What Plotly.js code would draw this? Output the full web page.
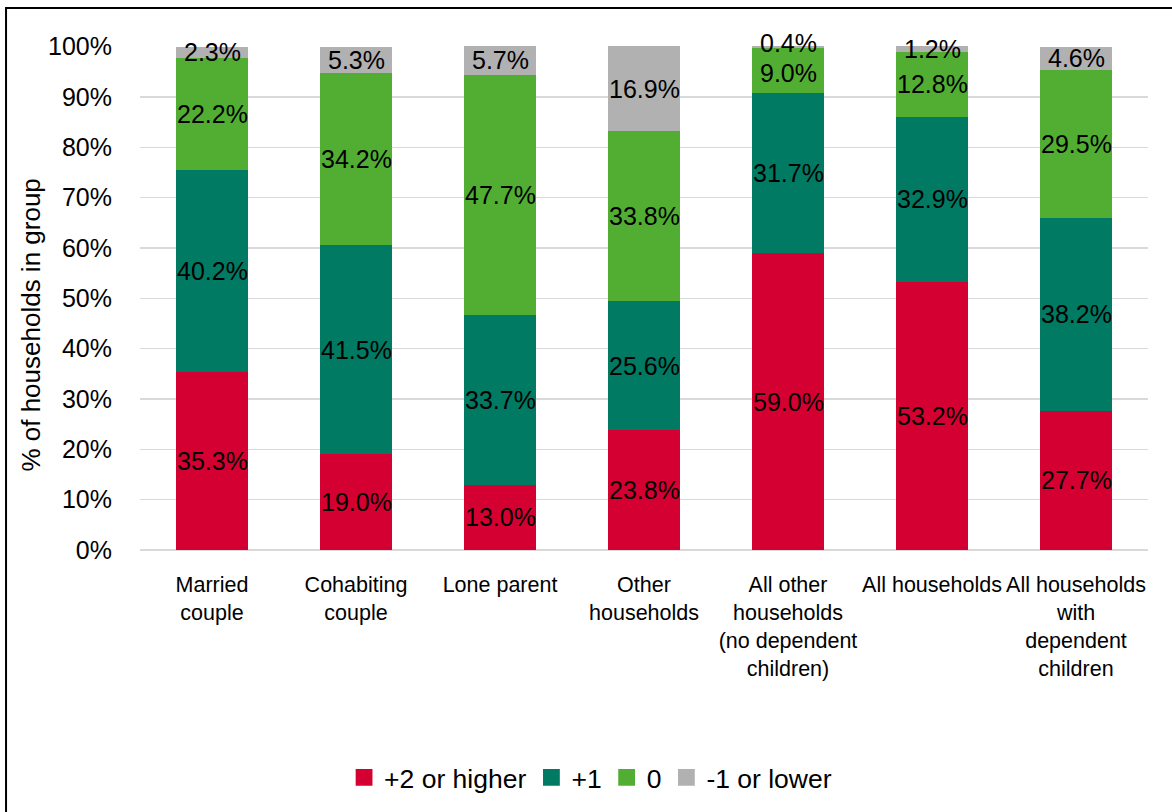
<!DOCTYPE html>
<html>
<head>
<meta charset="utf-8">
<script src="https://cdn.plot.ly/plotly-3.0.1.min.js"></script>
<style>
  html, body { margin: 0; padding: 0; background: #fff; }
  #chart { width: 1172px; height: 812px; }
</style>
</head>
<body>
<div id="chart"></div>
<script>
// Household groups along the x axis
const categories = [
  'Married<br>couple',
  'Cohabiting<br>couple',
  'Lone parent',
  'Other<br>households',
  'All other<br>households<br>(no dependent<br>children)',
  'All households',
  'All households<br>with<br>dependent<br>children'
];

// Share of households (%) in each band
const plus2OrHigher = [35.3, 19.0, 13.0, 23.8, 59.0, 53.2, 27.7];
const plus1        = [40.2, 41.5, 33.7, 25.6, 31.7, 32.9, 38.2];
const zero         = [22.2, 34.2, 47.7, 33.8, 9.0, 12.8, 29.5];
const minus1OrLower = [2.3, 5.3, 5.7, 16.9, 0.4, 1.2, 4.6];

const seriesNames = ['+2 or higher', '+1', '0', '-1 or lower'];
const seriesColors = ['#D50032', '#007A63', '#52AE32', '#B1B1B1'];
const seriesValues = [plus2OrHigher, plus1, zero, minus1OrLower];

const FONT = '"Liberation Sans", Arial, sans-serif';

const traces = seriesValues.map((vals, i) => ({
  type: 'bar',
  name: seriesNames[i],
  x: categories,
  y: vals,
  marker: { color: seriesColors[i], line: { width: 0 } },
  textposition: 'none',
  cliponaxis: false,
  hoverinfo: 'skip'
}));

// Value labels, centred in each stacked segment
const valueLabels = [];
categories.forEach((cat, c) => {
  let base = 0;
  const labels = seriesValues.map(vals => {
    const v = vals[c];
    const ann = {
      x: cat,
      y: base + v / 2,
      xref: 'x',
      yref: 'y',
      text: v.toFixed(1) + '%',
      showarrow: false,
      xanchor: 'center',
      yanchor: 'middle',
      yshift: 0,
      font: { family: FONT, size: 25, color: '#000' }
    };
    base += v;
    return ann;
  });
  // A very thin top segment: nudge its label and the one below apart
  const last = seriesValues.length - 1;
  if (seriesValues[last][c] < 1) {
    labels[last].yshift = 4;
    labels[last - 1].yshift = -2;
  }
  valueLabels.push(...labels);
});

const layout = {
  width: 1172,
  height: 812,
  barmode: 'stack',
  bargap: 0.5,
  paper_bgcolor: '#fff',
  plot_bgcolor: '#fff',
  font: { family: FONT, color: '#000' },
  margin: { l: 140, r: 24, t: 46, b: 261 },
  xaxis: {
    type: 'category',
    showgrid: false,
    showline: false,
    zeroline: false,
    ticks: 'outside',
    ticklen: 15,
    tickcolor: 'rgba(0,0,0,0)',
    tickfont: { family: FONT, size: 21.5, color: '#000' },
    tickangle: 0
  },
  yaxis: {
    range: [0, 100.12],
    tickvals: [0, 10, 20, 30, 40, 50, 60, 70, 80, 90, 100],
    ticktext: ['0%', '10%', '20%', '30%', '40%', '50%', '60%', '70%', '80%', '90%', '100%'],
    showgrid: true,
    gridcolor: '#D9D9D9',
    gridwidth: 1.5,
    zeroline: true,
    zerolinecolor: '#D9D9D9',
    zerolinewidth: 1.5,
    showline: false,
    ticks: 'outside',
    ticklen: 22,
    tickcolor: 'rgba(0,0,0,0)',
    tickfont: { family: FONT, size: 25, color: '#000' }
  },
  annotations: valueLabels.concat([{
    text: '% of households in group',
    xref: 'paper',
    yref: 'paper',
    x: -0.108,
    y: 0.4455,
    xanchor: 'center',
    yanchor: 'middle',
    textangle: -90,
    showarrow: false,
    font: { family: FONT, size: 26, color: '#000' }
  }]),
  showlegend: true,
  legend: {
    orientation: 'h',
    x: 0.447,
    xanchor: 'center',
    y: -0.449,
    yanchor: 'middle',
    font: { family: FONT, size: 26.5, color: '#000' },
    itemwidth: 30,
    tracegroupgap: 0,
    traceorder: 'normal'
  },
  shapes: [{
    type: 'path',
    xref: 'paper',
    yref: 'paper',
    path: 'M -0.1329 -1 L -0.1329 1.0752 L 1.2 1.0752',
    line: { color: '#000', width: 2 }
  }]
};

Plotly.newPlot('chart', traces, layout, { staticPlot: true, displayModeBar: false }).then(gd => {
  // Larger legend swatches
  gd.querySelectorAll('.legend .legendpoints path').forEach(p => {
    const t = p.getAttribute('transform') || '';
    p.setAttribute('transform', t + ' scale(1.4)');
  });
});
</script>
</body>
</html>
